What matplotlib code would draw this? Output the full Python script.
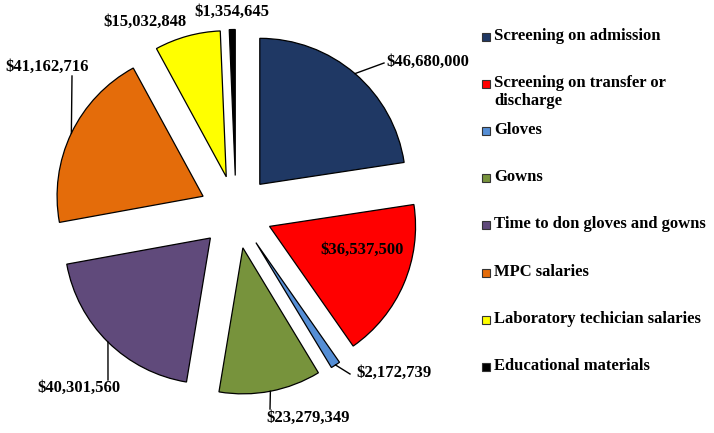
import numpy as np
import matplotlib
matplotlib.use("Agg")
import matplotlib.pyplot as plt
from matplotlib.patches import Rectangle

# Cost components
categories = ["Screening on admission", "Screening on transfer or\ndischarge", "Gloves",
              "Gowns", "Time to don gloves and gowns", "MPC salaries",
              "Laboratory techician salaries", "Educational materials"]
costs = [46680000, 36537500, 2172739, 23279349, 40301560, 41162716, 15032848, 1354645]
colors = ["#1F3864", "#FF0000", "#558ED5", "#77933C", "#604A7B", "#E46C0A", "#FFFF00", "#000000"]

W, H = 714, 433
CX, CY, R = 236, 212, 146   # pie centre / radius in pixels

plt.rcParams["font.family"] = ["Liberation Serif", "DejaVu Serif"]
plt.rcParams["font.weight"] = "bold"

fig = plt.figure(figsize=(W / 100, H / 100), dpi=100)
ax = fig.add_axes([0, 0, 1, 1])


def px(x, y):
    # pixel position -> data coords (radius = 1)
    return (x - CX) / R, (CY - y) / R


wedges, _ = ax.pie(costs, colors=colors, startangle=90, counterclock=False,
                   explode=[0.25] * len(costs), radius=1,
                   wedgeprops=dict(edgecolor="black", linewidth=0.9))
ax.set_aspect("auto")
ax.set_xlim(-CX / R, (W - CX) / R)
ax.set_ylim(-(H - CY) / R, CY / R)
ax.axis("off")

# label text position (pixels), leader end (pixels) or None
label_pos = [(386, 62, "left"), (362, 250, "center"), (356, 373, "left"),
             (308, 418, "center"), (79, 388, "center"), (47, 67, "center"),
             (145, 22, "center"), (232, 12, "center")]
leader_end = [(384, 63), None, (350, 374), (270, 409), (108, 380), (72, 76), None, None]

for w, v, (lx, ly, ha), end in zip(wedges, costs, label_pos, leader_end):
    if end is not None:
        mid = np.deg2rad((w.theta1 + w.theta2) / 2)
        sx = w.center[0] + w.r * np.cos(mid)
        sy = w.center[1] + w.r * np.sin(mid)
        ex, ey = px(*end)
        ax.plot([sx, ex], [sy, ey], color="black", lw=1)
    tx, ty = px(lx, ly)
    ax.text(tx, ty, "${:,}".format(v), ha=ha, va="center", fontsize=12,
            fontweight="bold", color="black")

# legend drawn by hand to keep the even row spacing
for i, (lab, c) in enumerate(zip(categories, colors)):
    y = 37 + i * 47.1
    fig.patches.append(Rectangle((482 / W, 1 - (y + 4) / H), 8 / W, 8 / H,
                                 transform=fig.transFigure, facecolor=c,
                                 edgecolor="#333333", linewidth=0.8))
    fig.text(494 / W, 1 - (y - 9) / H, lab, ha="left", va="top", fontsize=12,
             fontweight="bold", linespacing=1.15)

fig.savefig("out.png", dpi=100)
